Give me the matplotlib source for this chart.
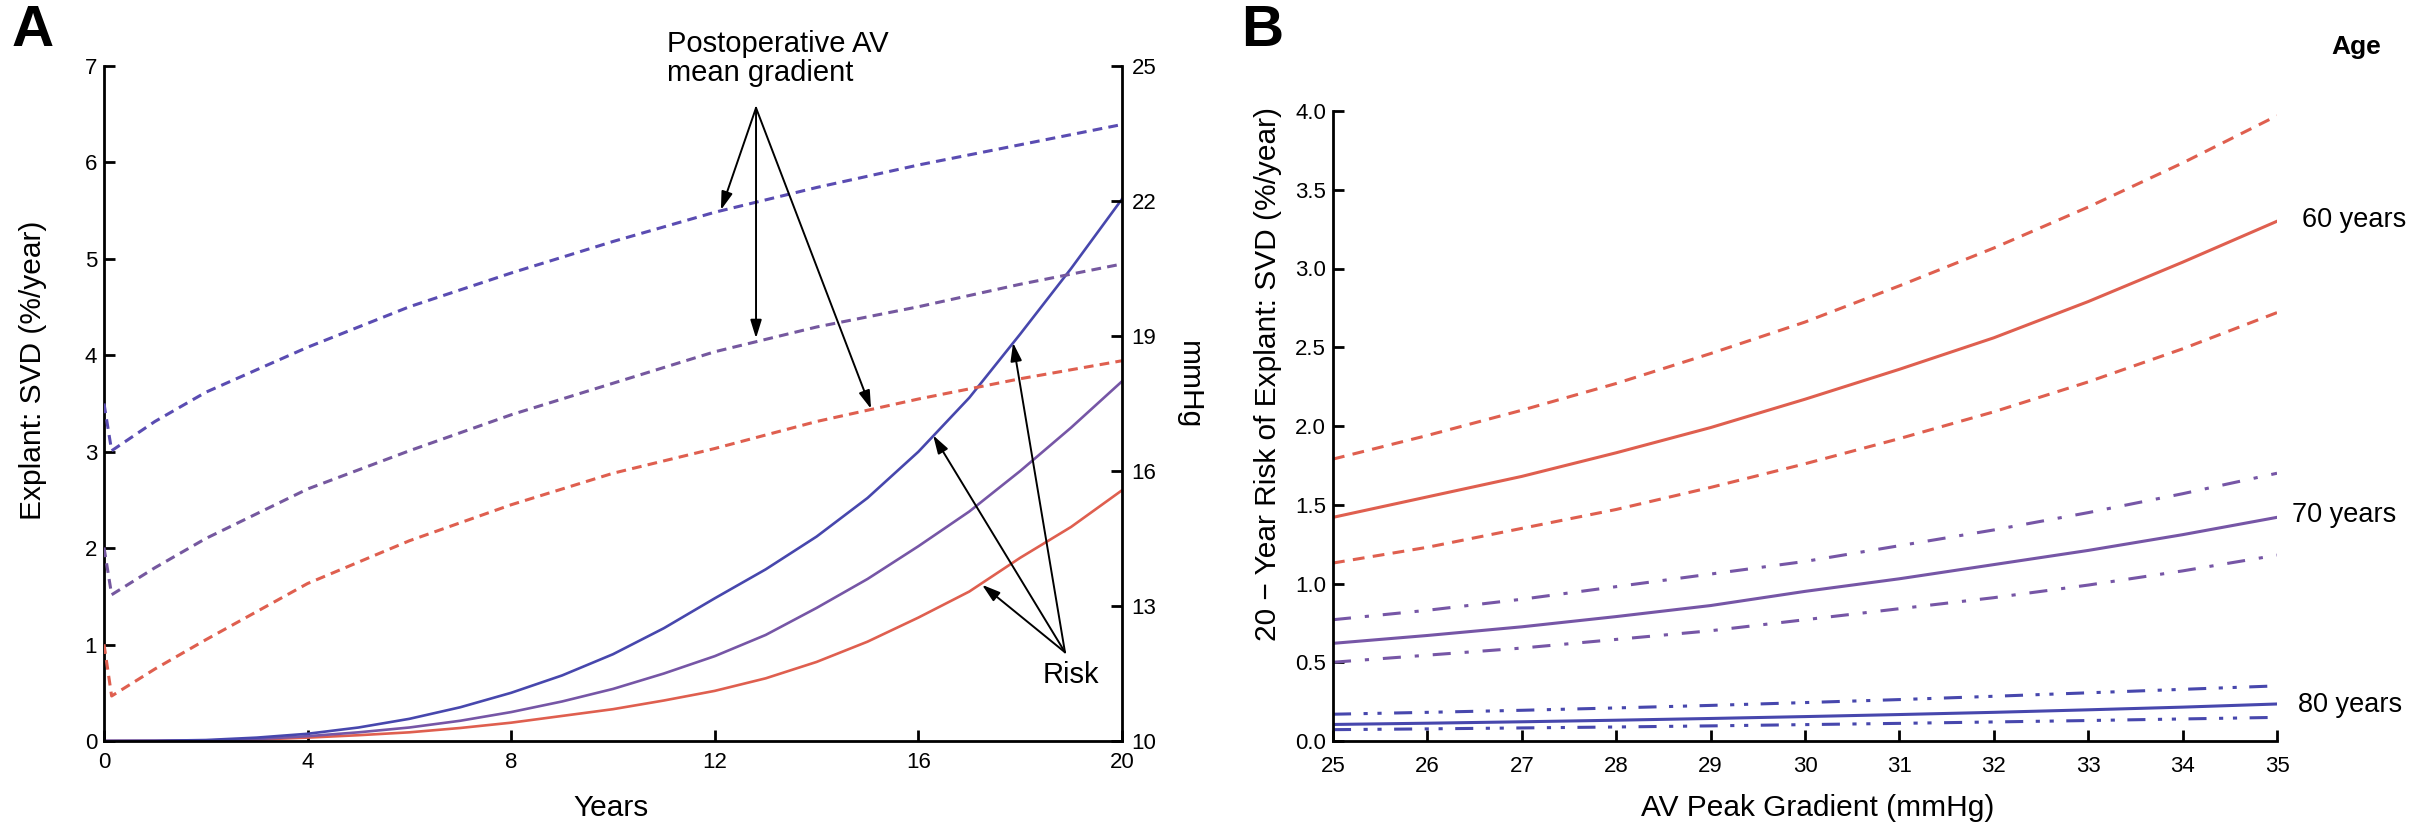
import matplotlib
matplotlib.use('Agg')
import matplotlib.pyplot as plt

plt.rcParams['font.family'] = ['Liberation Sans', 'DejaVu Sans']
plt.rcParams['lines.scale_dashes'] = False

W, H, DPI = 2427, 826, 100

# ---------------- Panel A data ----------------
years = [0, 1, 2, 3, 4, 5, 6, 7, 8, 9, 10, 11, 12, 13, 14, 15, 16, 17, 18, 19, 20]
risk_blue = [0, 0.002, 0.01, 0.035, 0.075, 0.14, 0.23, 0.35, 0.5, 0.68, 0.9, 1.17, 1.48,
             1.78, 2.12, 2.52, 3.0, 3.56, 4.22, 4.9, 5.62]
risk_purple = [0, 0.001, 0.005, 0.02, 0.05, 0.09, 0.14, 0.21, 0.3, 0.41, 0.54, 0.7, 0.88,
               1.1, 1.38, 1.68, 2.02, 2.38, 2.8, 3.25, 3.73]
risk_red = [0, 0.001, 0.005, 0.015, 0.035, 0.06, 0.09, 0.135, 0.19, 0.26, 0.33, 0.42, 0.52,
            0.65, 0.82, 1.03, 1.28, 1.55, 1.9, 2.22, 2.6]

grad_years = [0, 0.15, 1, 2, 4, 6, 8, 10, 12, 14, 16, 18, 20]
grad_blue = [17.5, 16.45, 17.1, 17.75, 18.75, 19.65, 20.4, 21.1, 21.75, 22.3, 22.8, 23.25, 23.7]
grad_purple = [14.3, 13.25, 13.85, 14.5, 15.6, 16.45, 17.25, 17.95, 18.65, 19.2, 19.65, 20.15, 20.6]
grad_red = [12.15, 11.0, 11.6, 12.25, 13.5, 14.45, 15.25, 15.95, 16.5, 17.1, 17.6, 18.05, 18.45]

a_xticks = [0, 4, 8, 12, 16, 20]
a_yticks = [0, 1, 2, 3, 4, 5, 6, 7]
a_y2ticks = [10, 13, 16, 19, 22, 25]

# ---------------- Panel B data ----------------
gradient = [25, 26, 27, 28, 29, 30, 31, 32, 33, 34, 35]
age60 = [1.42, 1.55, 1.68, 1.83, 1.99, 2.17, 2.36, 2.56, 2.79, 3.04, 3.30]
age60_hi = [1.79, 1.94, 2.10, 2.27, 2.46, 2.66, 2.89, 3.13, 3.39, 3.67, 3.97]
age60_lo = [1.13, 1.23, 1.35, 1.47, 1.61, 1.76, 1.92, 2.09, 2.28, 2.49, 2.72]
age70 = [0.62, 0.67, 0.725, 0.79, 0.86, 0.95, 1.03, 1.12, 1.21, 1.31, 1.42]
age70_hi = [0.77, 0.83, 0.90, 0.98, 1.06, 1.14, 1.24, 1.34, 1.45, 1.57, 1.70]
age70_lo = [0.50, 0.545, 0.59, 0.645, 0.70, 0.77, 0.84, 0.91, 0.99, 1.08, 1.18]
age80 = [0.105, 0.113, 0.122, 0.132, 0.143, 0.155, 0.168, 0.182, 0.198, 0.215, 0.235]
age80_hi = [0.17, 0.182, 0.195, 0.21, 0.226, 0.244, 0.263, 0.284, 0.306, 0.328, 0.35]
age80_lo = [0.072, 0.077, 0.083, 0.089, 0.096, 0.104, 0.112, 0.121, 0.13, 0.14, 0.15]
age_labels = ['60 years', '70 years', '80 years']

b_xticks = [25, 26, 27, 28, 29, 30, 31, 32, 33, 34, 35]
b_yticks = [0.0, 0.5, 1.0, 1.5, 2.0, 2.5, 3.0, 3.5, 4.0]

RED = '#df5f4f'
PURPLE = '#7656a6'
BLUE = '#4747ad'

fig = plt.figure(figsize=(W / DPI, H / DPI), dpi=DPI)


def fx(px):
    return px / W


def fy(py):
    return 1 - py / H


def box(x0, x1, ytop, ybot):
    return [fx(x0), fy(ybot), fx(x1) - fx(x0), fy(ytop) - fy(ybot)]


SPW = 2.0
TICKFS = 16
LABFS = 21.5

# ======================= Panel A =======================
ax = fig.add_axes(box(104, 1122, 66, 741))
ax2 = ax.twinx()

ax.plot(years, risk_red, color=RED, lw=1.9)
ax.plot(years, risk_purple, color=PURPLE, lw=1.9)
ax.plot(years, risk_blue, color=BLUE, lw=1.9)

dash_a = (0, (7, 4.5))
ax2.plot(grad_years, grad_blue, color='#5a4cb2', lw=2.2, linestyle=dash_a)
ax2.plot(grad_years, grad_purple, color='#75589f', lw=2.2, linestyle=dash_a)
ax2.plot(grad_years, grad_red, color=RED, lw=2.2, linestyle=dash_a)

ax.set_xlim(0, 20)
ax.set_ylim(0, 7)
ax2.set_ylim(10, 25)
ax.set_xticks(a_xticks)
ax.set_yticks(a_yticks)
ax2.set_yticks(a_y2ticks)
for a in (ax, ax2):
    a.spines['top'].set_visible(False)
    for s in a.spines.values():
        s.set_linewidth(SPW)
ax.spines['right'].set_visible(False)
ax2.spines['left'].set_visible(False)
ax2.spines['bottom'].set_visible(False)
ax.tick_params(axis='x', direction='in', length=8, width=SPW, labelsize=TICKFS, pad=8)
ax.tick_params(axis='y', direction='in', length=8, width=SPW, labelsize=TICKFS, pad=5)
ax2.tick_params(axis='y', direction='in', length=8, width=SPW, labelsize=TICKFS, pad=7)

# arrows: mean gradient
arrow_kw = dict(arrowstyle='-|>,head_length=0.55,head_width=0.17', color='k', lw=1.4,
                shrinkA=0, shrinkB=0, mutation_scale=20)
src_g = (12.81, 24.07)
for tgt in [(12.12, 21.8), (12.81, 18.95), (15.07, 17.38)]:
    ax2.annotate('', xy=tgt, xytext=src_g, xycoords='data', textcoords='data',
                 arrowprops=arrow_kw, annotation_clip=False)
src_r = (18.88, 0.92)
for tgt in [(17.86, 4.13), (16.29, 3.17), (17.25, 1.62)]:
    ax.annotate('', xy=tgt, xytext=src_r, xycoords='data', textcoords='data',
                arrowprops=arrow_kw, annotation_clip=False)

fig.text(fx(667), fy(30), 'Postoperative AV\nmean gradient', fontsize=21, ha='left',
         va='top', linespacing=1.05)
fig.text(fx(1071), fy(675), 'Risk', fontsize=21, ha='center', va='center')
fig.text(fx(12), fy(31), 'A', fontsize=42, fontweight='bold', ha='left', va='center')
fig.text(fx(33), fy(370), 'Explant: SVD (%/year)', fontsize=LABFS, rotation=90,
         ha='center', va='center')
fig.text(fx(611), fy(808), 'Years', fontsize=LABFS, ha='center', va='center')
fig.text(fx(1189), fy(385), 'mmHg', fontsize=LABFS, rotation=270, ha='center', va='center')

# ======================= Panel B =======================
bx = fig.add_axes(box(1333, 2277, 111, 741))
dash_b = (0, (8.5, 6))
dashdot_b = (0, (13, 10, 3, 10))
dashdotdot_b = (0, (13, 9, 3, 7, 3, 9))

bx.plot(gradient, age60_hi, color=RED, lw=2.2, linestyle=dash_b)
bx.plot(gradient, age60, color=RED, lw=2.2)
bx.plot(gradient, age60_lo, color=RED, lw=2.2, linestyle=dash_b)
bx.plot(gradient, age70_hi, color=PURPLE, lw=2.2, linestyle=dashdot_b)
bx.plot(gradient, age70, color=PURPLE, lw=2.2)
bx.plot(gradient, age70_lo, color=PURPLE, lw=2.2, linestyle=dashdot_b)
bx.plot(gradient, age80_hi, color=BLUE, lw=2.2, linestyle=dashdotdot_b)
bx.plot(gradient, age80, color=BLUE, lw=2.2)
bx.plot(gradient, age80_lo, color=BLUE, lw=2.2, linestyle=dashdotdot_b)

bx.set_xlim(25, 35)
bx.set_ylim(0, 4)
bx.set_xticks(b_xticks)
bx.set_yticks(b_yticks)
bx.set_yticklabels([f'{v:.1f}' for v in b_yticks])
bx.spines['top'].set_visible(False)
bx.spines['right'].set_visible(False)
for s in bx.spines.values():
    s.set_linewidth(SPW)
bx.tick_params(axis='x', direction='in', length=8, width=SPW, labelsize=TICKFS, pad=11)
bx.tick_params(axis='y', direction='in', length=8, width=SPW, labelsize=TICKFS, pad=5)

fig.text(fx(1241), fy(31), 'B', fontsize=42, fontweight='bold', ha='left', va='center')
fig.text(fx(1268), fy(374), '20 \u2212 Year Risk of Explant: SVD (%/year)', fontsize=LABFS,
         rotation=90, ha='center', va='center')
fig.text(fx(1818), fy(808), 'AV Peak Gradient (mmHg)', fontsize=LABFS, ha='center',
         va='center')
fig.text(fx(2356), fy(47), 'Age', fontsize=19, fontweight='bold', ha='center', va='center')
for lab, xp, yp in zip(age_labels, [2302, 2292, 2298], [220, 515, 705]):
    fig.text(fx(xp), fy(yp), lab, fontsize=19.5, ha='left', va='center')

fig.savefig('out.png', dpi=DPI)
